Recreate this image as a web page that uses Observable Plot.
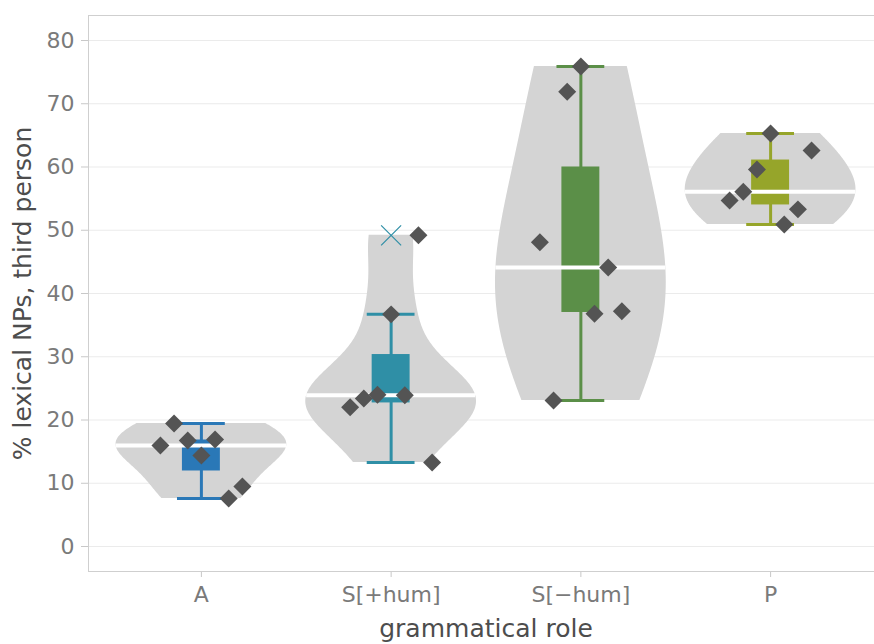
<!DOCTYPE html>
<html><head><meta charset="utf-8">
<script src="https://cdn.jsdelivr.net/npm/d3@7"></script>
<script src="https://cdn.jsdelivr.net/npm/@observablehq/plot@0.6"></script>
<style>
html,body{margin:0;padding:0;background:#fff;overflow:hidden;}
#chart svg{max-width:none !important;width:884px !important;height:644px !important;}
#chart svg g[aria-label="x-axis tick"] path,
#chart svg g[aria-label="y-axis tick"] path,
#chart svg g[aria-label="x-axis"] .tick line,
#chart svg g[aria-label="y-axis"] .tick line { stroke:#c8c8c8; }
</style></head><body><div id="chart"></div>
<script>
// ---- data ----
const roles = ["A", "S[+hum]", "S[−hum]", "P"];
const boxColors = ["#2a78b7", "#2f8fa6", "#5b8f48", "#96a52a"];
const valuesA = [19.45, 15.97, 16.76, 16.92, 14.39, 9.49, 7.59];
const valuesShum = [49.2, 36.7, 22.0, 23.4, 24.0, 23.9, 13.3];
const valuesSnohum = [75.9, 71.9, 48.1, 44.1, 36.8, 37.2, 23.1];
const valuesP = [65.3, 62.6, 59.6, 56.1, 54.7, 53.3, 50.9];
const jitterA = [-2, -3, -1, 1, 0, 3, 2];
const jitterShum = [2, 0, -3, -2, -1, 1, 3];
const jitterSnohum = [0, -1, -3, 2, 1, 3, -2];
const jitterP = [0, 3, -1, -2, -3, 2, 1];
const yTicks = [0, 10, 20, 30, 40, 50, 60, 70, 80];
const yDomain = [-3.95, 83.95];
const xDomain = [-0.595, 3.595];
const xLabel = "grammatical role";
const yLabel = "% lexical NPs, third person";

// ---- derived ----
const groups = [valuesA, valuesShum, valuesSnohum, valuesP];
const jitters = [jitterA, jitterShum, jitterSnohum, jitterP];
const JSTEP = 0.072, HALF = 0.45, BOXHALF = 0.1, CAPHALF = 0.126;

const points = groups.flatMap((vals, i) => vals.map((v, k) => ({i, v, j: jitters[i][k]})));

const stats = groups.map((vals, i) => {
  const s = vals.slice().sort(d3.ascending);
  const q1 = d3.quantile(s, 0.25), med = d3.quantile(s, 0.5), q3 = d3.quantile(s, 0.75);
  const iqr = q3 - q1;
  const f1 = q1 - 1.5 * iqr, f2 = q3 + 1.5 * iqr;
  const inside = s.filter(v => v >= f1 && v <= f2);
  const outliers = s.filter(v => v < f1 || v > f2).map(v => ({i, v, color: boxColors[i]}));
  const bw = Math.min(d3.deviation(s), iqr / 1.34);
  const dens = y => d3.sum(s, v => Math.exp(-0.5 * ((y - v) / bw) ** 2));
  const [lo0, hi0] = d3.extent(s);
  const n = 160;
  const ys = d3.range(n + 1).map(k => lo0 + (hi0 - lo0) * k / n);
  const ds = ys.map(dens);
  const dmax = d3.max(ds);
  const curve = ys.map((y, k) => ({i, y, w: HALF * ds[k] / dmax}));
  return {i, color: boxColors[i], q1, med, q3, lo: d3.min(inside), hi: d3.max(inside),
          outliers, curve, medW: HALF * dens(med) / dmax};
});
const violin = stats.flatMap(d => d.curve);
const outliers = stats.flatMap(d => d.outliers);

const chart = Plot.plot({
  width: 884, height: 644,
  marginTop: 15, marginBottom: 73, marginLeft: 88, marginRight: 1,
  style: {fontFamily: "DejaVu Sans", fontSize: "22px", color: "#7a7a7a", background: "white"},
  color: {type: "identity"},
  x: {type: "linear", domain: xDomain, ticks: d3.range(roles.length), tickFormat: i => roles[i],
      tickSize: 6, tickPadding: 9, label: null},
  y: {domain: yDomain, ticks: yTicks, tickSize: 7, tickPadding: 7, label: null},
  marks: [
    Plot.ruleY(yTicks, {stroke: "#ebebeb", strokeWidth: 1}),
    Plot.frame({stroke: "#cfcfcf"}),
    Plot.areaX(violin, {y: "y", x1: d => d.i - d.w, x2: d => d.i + d.w, z: "i", fill: "#d4d4d4"}),
    Plot.ruleX(stats, {x: "i", y1: "lo", y2: "hi", stroke: "color", strokeWidth: 3}),
    Plot.ruleY(stats, {y: "lo", x1: d => d.i - CAPHALF, x2: d => d.i + CAPHALF, stroke: "color", strokeWidth: 3}),
    Plot.ruleY(stats, {y: "hi", x1: d => d.i - CAPHALF, x2: d => d.i + CAPHALF, stroke: "color", strokeWidth: 3}),
    Plot.rect(stats, {x1: d => d.i - BOXHALF, x2: d => d.i + BOXHALF, y1: "q1", y2: "q3", fill: "color"}),
    Plot.ruleY(stats, {y: "med", x1: d => d.i - d.medW, x2: d => d.i + d.medW, stroke: "white", strokeWidth: 4}),
    Plot.dot(outliers, {x: "i", y: "v", symbol: "times", r: 9.15, stroke: "color", strokeWidth: 1.2}),
    Plot.dot(points, {x: d => d.i + d.j * JSTEP, y: "v", symbol: "diamond2", r: 8.1, fill: "#545454", stroke: "none"}),
    Plot.text([yLabel], {frameAnchor: "left", textAnchor: "middle", dx: -66, rotate: -90, fontSize: 25, fill: "#4d4d4d"}),
    Plot.text([xLabel], {frameAnchor: "bottom", textAnchor: "middle", dy: 65, fontSize: 25, fill: "#4d4d4d"})
  ]
});
document.getElementById("chart").append(chart);
</script></body></html>
